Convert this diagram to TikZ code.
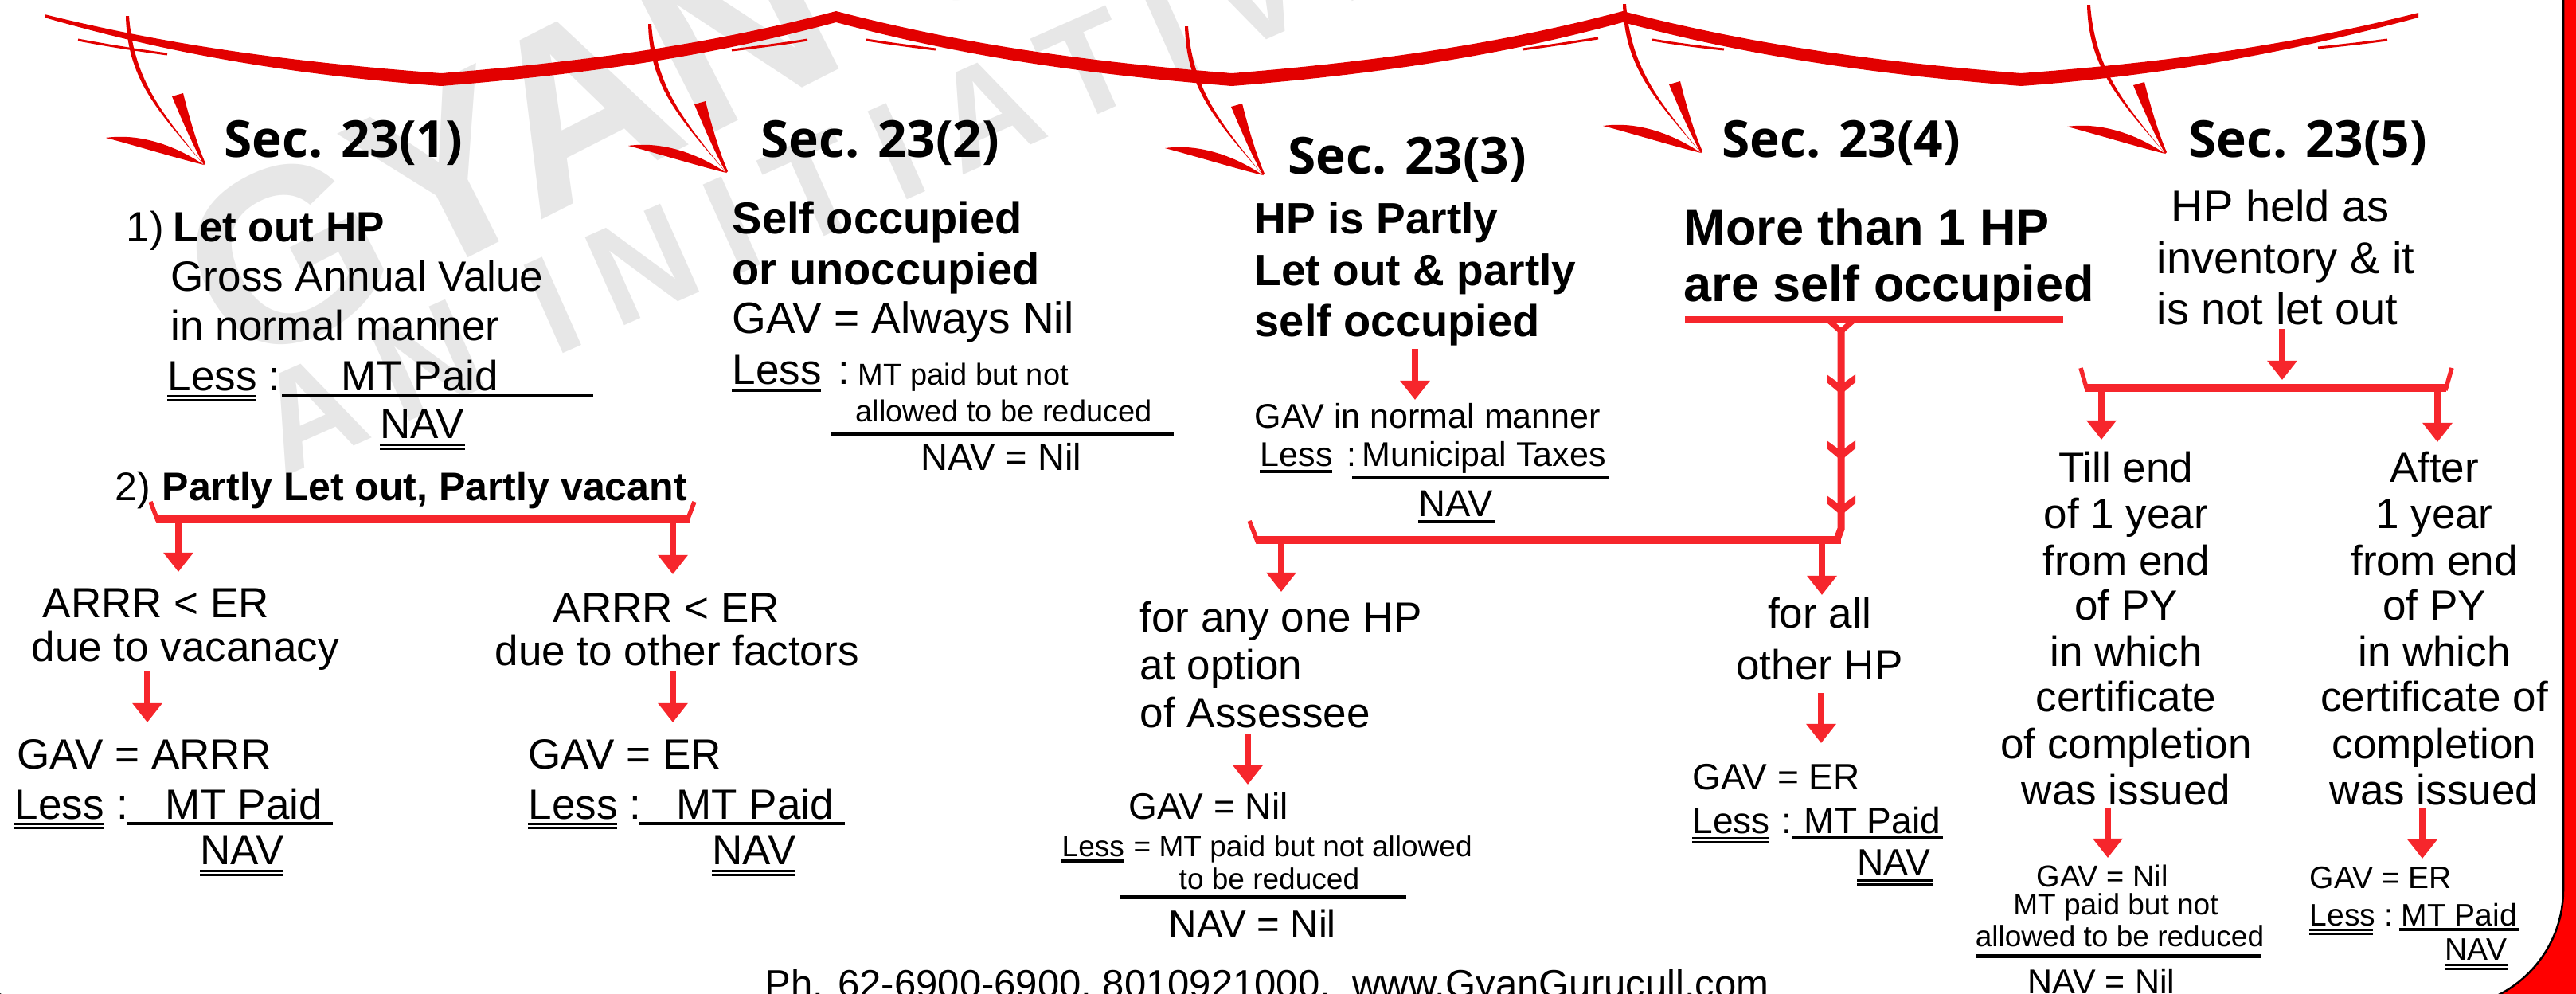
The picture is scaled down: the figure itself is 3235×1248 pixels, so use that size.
\documentclass[tikz,border=0pt]{standalone}
\usepackage{fontspec}
\setmainfont{Liberation Sans}
\newfontfamily\headfont{Open Sans}
\usetikzlibrary{arrows.meta}
\definecolor{bred}{RGB}{246,38,44}
\definecolor{wred}{RGB}{226,0,0}
\definecolor{bord}{RGB}{255,0,0}
\definecolor{wmk}{RGB}{231,231,231}
\newcommand\dul[3]{\draw[line width=0.03cm] (#1,#3) -- (#2,#3); \draw[line width=0.03cm] (#1,#3+5) -- (#2,#3+5);}
\newcommand\sul[3]{\draw[line width=0.035cm] (#1,#3) -- (#2,#3);}
\newcommand\rarrow[4]{\coordinate (#1s) at (#2,#3); \coordinate (#1e) at (#2,#4); \draw[rarr] (#1s) -- (#1e);}
\begin{document}
\begin{tikzpicture}[x=0.01cm,y=-0.01cm,
  t/.style={inner sep=0pt, anchor=base west},
  tc/.style={inner sep=0pt, anchor=base},
  fz/.style={font=\fontsize{#1}{#1}\selectfont},
  fzb/.style={font=\fontsize{#1}{#1}\selectfont\bfseries},
  hd/.style={font=\headfont\fontsize{18.2pt}{18.2pt}\selectfont\bfseries},
  rarr/.style={draw=bred, line width=0.08cm, -{Triangle[width=0.36cm,length=0.24cm]}},
  sarrow/.pic={
    \fill[wred] (-98,-187) .. controls (-96,-107) and (-58,-68) .. (0,0)
       .. controls (-50,-62) and (-88,-105) .. (-94,-187) -- cycle;
    \fill[wred] (-123,-34) .. controls (-80,-40) and (-35,-24) .. (0,0)
       .. controls (-40,-10) and (-85,-24) .. (-123,-34) -- cycle;
    \fill[wred] (-40,-86) -- (-26,-90) .. controls (-16,-50) and (-6,-20) .. (2,-2) -- (0,0)
       .. controls (-14,-25) and (-27,-55) .. (-40,-86) -- cycle;
  },
  chev/.pic={\fill[bred] (-18,0) -- (0,13) -- (18,0) -- (18,10) -- (0,25) -- (-18,10) -- cycle;}
]
\useasboundingbox (0,0) rectangle (3235,1248);
\clip (0,0) rectangle (3235,1248);
\fill[bord] (0,0) rectangle (3235,1248);
\draw[black, line width=0.025cm, fill=white, rounded corners=1.48cm] (-80,-300) rectangle (3219,1265);

% watermark
\node[rotate=27, anchor=base west, text=wmk, inner sep=0, font=\fontsize{88pt}{88pt}\selectfont\bfseries] (wm1) at (300,470) {GYAN G};
\node[rotate=24, anchor=base west, text=wmk, inner sep=0, font=\fontsize{50pt}{50pt}\selectfont\bfseries\addfontfeatures{LetterSpace=20}] (wm2) at (355,600) {AN INITIATIVE BY G};

% garland
\fill[wred] (56,18) .. controls (205,55) and (355,77) .. (554,92)
  .. controls (752,76) and (901,53) .. (1050,14)
  .. controls (1199,53) and (1348,76) .. (1547,92)
  .. controls (1743,76) and (1891,53) .. (2038,14)
  .. controls (2188,53) and (2338,76) .. (2538,92)
  .. controls (2738,77) and (2887,54) .. (3037,16)
  -- (3037,22)
  .. controls (2887,62) and (2738,93) .. (2538,108)
  .. controls (2338,92) and (2188,68) .. (2038,28)
  .. controls (1891,68) and (1743,92) .. (1547,108)
  .. controls (1348,92) and (1199,68) .. (1050,28)
  .. controls (901,68) and (752,92) .. (554,108)
  .. controls (355,93) and (205,65) .. (56,22) -- cycle;
\draw[wred, line width=0.03cm] (98,50) .. controls (140,58) and (180,64) .. (210,68);
\draw[wred, line width=0.03cm] (919,63) .. controls (960,58) and (990,54) .. (1014,50);
\draw[wred, line width=0.03cm] (1088,50) .. controls (1120,55) and (1150,59) .. (1175,62);
\draw[wred, line width=0.03cm] (1912,62) .. controls (1950,57) and (1980,52) .. (2007,48);
\draw[wred, line width=0.03cm] (2075,50) .. controls (2105,55) and (2135,59) .. (2165,62);
\draw[wred, line width=0.03cm] (2911,60) .. controls (2950,56) and (2975,53) .. (2998,50);

\pic at (256,207) {sarrow};
\pic at (912,217) {sarrow};
\pic at (1586,220) {sarrow};
\pic at (2136,192) {sarrow};
\pic at (2719,193) {sarrow};

% headings
\node[t,hd] (h1) at (281,197) {Sec. 23(1)};
\node[t,hd] (h2) at (955,197) {Sec. 23(2)};
\node[t,hd] (h3) at (1617,218) {Sec. 23(3)};
\node[t,hd] (h4) at (2162,197) {Sec. 23(4)};
\node[t,hd] (h5) at (2748,197) {Sec. 23(5)};

% ---------- column 1
\node[t,fz=15.08pt] (c1n1) at (158,303) {1)};
\node[t,fzb=15.08pt] (c1t1) at (217,303) {Let out HP};
\node[t,fz=15.08pt] (c1t2) at (214,365) {Gross Annual Value};
\node[t,fz=15.08pt] (c1t3) at (214,427) {in normal manner};
\node[t,fz=15.08pt] (c1less) at (210,490) {Less};
\dul{210}{322}{497}
\node[t,fz=15.08pt] (c1col) at (337,490) {:};
\node[t,fz=15.08pt] (c1mt) at (428,490) {MT Paid};
\sul{354}{745}{497}
\node[t,fz=15.08pt] (c1nav) at (477,550) {NAV};
\dul{477}{584}{558}
\node[t,fz=14.23pt] (c1n2) at (144,628) {2)};
\node[t,fzb=14.23pt] (c1t4) at (203,628) {Partly Let out, Partly vacant};
\draw[bred, line width=0.1cm] (197,652) -- (866,652);
\draw[bred, line width=0.055cm] (189,630) -- (199,656);
\draw[bred, line width=0.055cm] (872,630) -- (862,656);
\rarrow{a11}{224}{657}{718}
\rarrow{a12}{845}{657}{721}
\node[t,fz=15.08pt] (c1a) at (53,775) {ARRR < ER};
\node[t,fz=15.08pt] (c1b) at (39,830) {due to vacanacy};
\node[t,fz=15.08pt] (c1c) at (694,781) {ARRR < ER};
\node[t,fz=15.08pt] (c1d) at (621,835) {due to other factors};
\rarrow{a13}{185}{843}{907}
\rarrow{a14}{845}{843}{907}
\node[t,fz=15.08pt] (c1e) at (21,965) {GAV = ARRR};
\node[t,fz=15.08pt] (c1f) at (18,1028) {Less};
\dul{18}{130}{1034}
\node[t,fz=15.08pt] (c1g) at (146,1028) {:};
\node[t,fz=15.08pt] (c1h) at (207,1028) {MT Paid};
\sul{160}{418}{1034}
\node[t,fz=15.08pt] (c1i) at (251,1085) {NAV};
\dul{251}{356}{1093}
\node[t,fz=15.08pt] (c1j) at (663,965) {GAV = ER};
\node[t,fz=15.08pt] (c1k) at (663,1028) {Less};
\dul{663}{775}{1034}
\node[t,fz=15.08pt] (c1l) at (790,1028) {:};
\node[t,fz=15.08pt] (c1m) at (849,1028) {MT Paid};
\sul{803}{1061}{1034}
\node[t,fz=15.08pt] (c1o) at (894,1085) {NAV};
\dul{894}{999}{1093}

% ---------- column 2
\node[t,fzb=15.93pt] (c2a) at (919,293) {Self occupied};
\node[t,fzb=15.93pt] (c2b) at (919,357) {or unoccupied};
\node[t,fz=15.65pt] (c2c) at (919,418) {GAV = Always Nil};
\node[t,fz=15.08pt] (c2less) at (919,482) {Less};
\sul{919}{1031}{490}
\node[t,fz=15.08pt] (c2col) at (1052,482) {:};
\node[t,fz=10.81pt] (c2d) at (1077,483) {MT paid but not};
\node[t,fz=10.81pt] (c2e) at (1074,529) {allowed to be reduced};
\draw[line width=0.05cm] (1043,545) -- (1474,545);
\node[t,fz=13.37pt] (c2f) at (1156,590) {NAV = Nil};

% ---------- column 3
\node[t,fzb=15.65pt] (c3a) at (1575,293) {HP is Partly};
\node[t,fzb=15.65pt] (c3b) at (1575,358) {Let out \& partly};
\node[t,fzb=15.93pt] (c3c) at (1575,422) {self occupied};
\rarrow{a31}{1777}{438}{502}
\node[t,fz=12.23pt] (c3d) at (1575,537) {GAV in normal manner};
\node[t,fz=12.23pt] (c3less) at (1582,585) {Less};
\sul{1582}{1673}{592}
\node[t,fz=12.23pt] (c3col) at (1691,585) {:};
\node[t,fz=12.23pt] (c3e) at (1710,585) {Municipal Taxes};
\draw[line width=0.045cm] (1698,600) -- (2021,600);
\node[t,fz=13.37pt] (c3nav) at (1781,648) {NAV};
\sul{1781}{1878}{655}
\draw[bred, line width=0.1cm] (1578,678) -- (2312,678);
\draw[bred, line width=0.055cm] (1569,654) -- (1580,682);
\rarrow{a32}{1609}{683}{743}
\node[t,fz=15.08pt] (c3f) at (1431,793) {for any one HP};
\node[t,fz=15.08pt] (c3g) at (1431,853) {at option};
\node[t,fz=15.08pt] (c3h) at (1431,913) {of Assessee};
\rarrow{a33}{1567}{922}{985}
\node[t,fz=13.09pt] (c3i) at (1417,1028) {GAV = Nil};
\node[t,fz=10.53pt] (c3less) at (1333,1075) {Less};
\sul{1333}{1411}{1081}
\node[t,fz=10.53pt] (c3j) at (c3less.base east) {~= MT paid but not allowed};
\node[t,fz=10.53pt] (c3k) at (1480,1116) {to be reduced};
\draw[line width=0.05cm] (1407,1126) -- (1766,1126);
\node[t,fz=13.94pt] (c3l) at (1467,1177) {NAV = Nil};

% ---------- column 4
\node[t,fzb=17.93pt] (c4a) at (2114,307) {More than 1 HP};
\node[t,fzb=17.93pt] (c4b) at (2114,378) {are self occupied};
\draw[bred, line width=0.08cm] (2116,401) -- (2591,401);
\draw[bred, line width=0.07cm] (2295,401) -- (2312,416) -- (2329,401);
\draw[bred, line width=0.09cm] (2312,414) -- (2312,664) -- (2306,680);
\pic at (2312,470) {chev};
\pic at (2312,553) {chev};
\pic at (2312,622) {chev};
\rarrow{a41}{2288}{683}{747}
\node[tc,fz=15.08pt] (c4c) at (2285,788) {for all};
\node[tc,fz=15.08pt] (c4d) at (2285,853) {other HP};
\rarrow{a42}{2287}{870}{933}
\node[t,fz=13.09pt] (c4e) at (2125,991) {GAV = ER};
\node[t,fz=13.09pt] (c4less) at (2125,1046) {Less};
\dul{2125}{2222}{1052}
\node[t,fz=13.09pt] (c4col) at (2237,1046) {:};
\node[t,fz=13.09pt] (c4f) at (2265,1046) {MT Paid};
\sul{2251}{2440}{1052}
\node[t,fz=13.09pt] (c4nav) at (2332,1098) {NAV};
\dul{2332}{2427}{1105}

% ---------- column 5
\node[t,fz=15.93pt] (c5a) at (2726,278) {HP held as};
\node[t,fz=15.93pt] (c5b) at (2708,343) {inventory \& it};
\node[t,fz=15.93pt] (c5c) at (2708,407) {is not let out};
\rarrow{a51}{2866}{413}{477}
\draw[bred, line width=0.1cm] (2619,487) -- (3072,487);
\draw[bred, line width=0.055cm] (2613,462) -- (2621,490);
\draw[bred, line width=0.055cm] (3079,462) -- (3071,490);
\rarrow{a52}{2639}{492}{552}
\rarrow{a53}{3061}{492}{555}
\foreach \txt/\yy [count=\i] in {Till end/605, of 1 year/663, from end/722, of PY/778, in which/836, certificate/893, of completion/952, was issued/1010}
  \node[tc,fz=15.08pt] (c5L\i) at (2670,\yy) {\txt};
\foreach \txt/\yy [count=\i] in {After/605, 1 year/663, from end/722, of PY/778, in which/836, certificate of/893, completion/952, was issued/1010}
  \node[tc,fz=15.08pt] (c5R\i) at (3057,\yy) {\txt};
\rarrow{a54}{2647}{1015}{1077}
\rarrow{a55}{3042}{1015}{1078}
\node[tc,fz=10.81pt] (c5d) at (2640,1113) {GAV = Nil};
\node[tc,fz=10.53pt] (c5e) at (2657,1148) {MT paid but not};
\node[tc,fz=10.53pt] (c5f) at (2662,1188) {allowed to be reduced};
\draw[line width=0.05cm] (2482,1200) -- (2840,1200);
\node[tc,fz=12.23pt] (c5g) at (2639,1247) {NAV = Nil};
\node[t,fz=11.10pt] (c5h) at (2900,1115) {GAV = ER};
\node[t,fz=11.10pt] (c5less) at (2900,1162) {Less};
\dul{2900}{2980}{1167}
\node[t,fz=11.10pt] (c5col) at (2994,1162) {:};
\node[t,fz=11.10pt] (c5i) at (3015,1162) {MT Paid};
\sul{3013}{3163}{1167}
\node[t,fz=11.10pt] (c5nav) at (3070,1205) {NAV};
\dul{3070}{3150}{1211}

% footer
\node[t,fz=13.94pt] (foot) at (960,1252) {Ph. 62-6900-6900, 8010921000,~ www.GyanGurucull.com};
\end{tikzpicture}
\end{document}
